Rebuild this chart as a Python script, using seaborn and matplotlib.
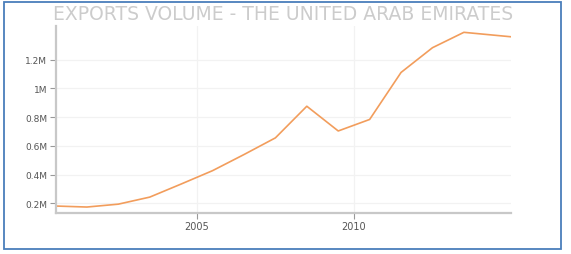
import matplotlib
matplotlib.use("Agg")
import matplotlib.pyplot as plt
from matplotlib.patches import Rectangle
from matplotlib.ticker import FuncFormatter
import seaborn as sns
import pandas as pd

title = "EXPORTS VOLUME - THE UNITED ARAB EMIRATES"
years = [2000.5, 2001.5, 2002.5, 2003.5, 2004.5, 2005.5, 2006.5, 2007.5,
         2008.5, 2009.5, 2010.5, 2011.5, 2012.5, 2013.5, 2015.0]
volume = [182000, 175000, 195000, 244000, 335000, 428000, 540000, 656000,
          876000, 704000, 784000, 1111000, 1283000, 1390000, 1359000]
ytick_vals = [200000, 400000, 600000, 800000, 1000000, 1200000]
xtick_vals = [2005, 2010]

df = pd.DataFrame({"year": years, "volume": volume})

sns.set_theme(style="white")
plt.rcParams["font.family"] = ["DejaVu Sans"]

fig = plt.figure(figsize=(5.71, 2.55), dpi=100)
ax = fig.add_axes([55.5 / 571, 41 / 255, 455.5 / 571, 187 / 255])

sns.lineplot(data=df, x="year", y="volume", ax=ax, color="#f29d5c", linewidth=1.2)

ax.set_xlim(min(years), max(years))
ax.set_ylim(133500, 1434000)
ax.set_xticks(xtick_vals)
ax.set_xticklabels([str(v) for v in xtick_vals])
ax.set_yticks(ytick_vals)
ax.yaxis.set_major_formatter(FuncFormatter(lambda v, p: f"{v/1e6:g}M"))
ax.set_xlabel("")
ax.set_ylabel("")

ax.grid(True, color="#f2f2f2", linewidth=0.9)
for s in ["top", "right"]:
    ax.spines[s].set_visible(False)
for s in ["left", "bottom"]:
    ax.spines[s].set_color("#c8c8c8")
    ax.spines[s].set_linewidth(1.6)

ax.tick_params(axis="both", which="major", length=4, width=0.8, color="#999999",
               labelsize=6.5, labelcolor="#555555", pad=2, left=True, bottom=True)
ax.tick_params(axis="x", labelsize=7)

fig.text(283 / 571, 1 - 15 / 255, title, ha="center", va="center",
         fontsize=13.5, color="#cccccc")

fig.patches.append(Rectangle((4 / 571, 5 / 255), 557 / 571, 247 / 255,
                             transform=fig.transFigure, fill=False,
                             edgecolor="#4a7ebb", linewidth=1.3))

fig.savefig("out.png", dpi=100)
